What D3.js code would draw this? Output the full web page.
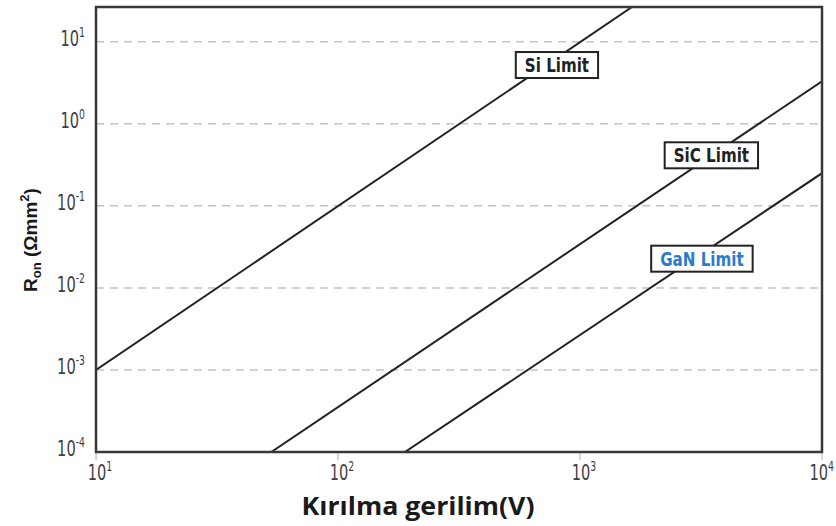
<!DOCTYPE html>
<html>
<head>
<meta charset="utf-8">
<script src="https://cdn.jsdelivr.net/npm/d3@7"></script>
<style>
    body { margin: 0; background: #fff; }
    .tick-label { font-family: "DejaVu Sans Condensed", "Liberation Sans Narrow", sans-serif; fill: #404040; }
    .limit-label { font-family: "DejaVu Sans Condensed", "Liberation Sans Narrow", sans-serif; font-weight: bold; }
</style>
</head>
<body>
<svg id="chart" width="836" height="526"></svg>
<script>
// breakdown voltage ticks and Ron ticks (exponents of 10)
const xTickExps = [1, 2, 3, 4]
const yTickExps = [-4, -3, -2, -1, 0, 1]

// limit lines, points [V, Ron]
const siLimit = [[10, 1e-3], [1640, 26.5]]
const sicLimit = [[53, 1e-4], [1e4, 3.3]]
const ganLimit = [[189, 1e-4], [1e4, 0.25]]

const limitNames = ["Si Limit", "SiC Limit", "GaN Limit"]
const labelAnchors = [[803, 5.2], [3490, 0.413], [3190, 0.0227]]
const labelColors = ["#222", "#222", "#2a7bd0"]

const margin = { left: 96, top: 7, right: 14, bottom: 74 }
const svg = d3.select("#chart")
const width = +svg.attr("width")
const height = +svg.attr("height")

const scX = d3.scaleLog().domain([10, 1e4]).range([margin.left, width - margin.right])
const scY = d3.scaleLog().domain([1e-4, 26.5]).range([height - margin.bottom, margin.top])

svg.append("clipPath").attr("id", "plot-clip")
    .append("rect")
    .attr("x", margin.left).attr("y", margin.top)
    .attr("width", width - margin.left - margin.right)
    .attr("height", height - margin.top - margin.bottom)

// dashed grid lines
svg.append("g").selectAll("line").data(yTickExps.slice(1))
    .enter().append("line")
    .attr("x1", scX.range()[0]).attr("x2", scX.range()[1])
    .attr("y1", d => scY(Math.pow(10, d))).attr("y2", d => scY(Math.pow(10, d)))
    .attr("stroke", "#c4c4c4").attr("stroke-width", 1.5)
    .attr("stroke-dasharray", "8,6")

// x ticks
svg.append("g").selectAll("line").data(xTickExps)
    .enter().append("line")
    .attr("x1", d => scX(Math.pow(10, d))).attr("x2", d => scX(Math.pow(10, d)))
    .attr("y1", scY.range()[0]).attr("y2", scY.range()[0] + 8)
    .attr("stroke", "#b0b0b0").attr("stroke-width", 1)

// tick labels as 10 with superscript exponent, squeezed to look narrow
function tickLabel(sel, exp) {
    sel.append("tspan").text("10")
    sel.append("tspan").attr("dy", -9).attr("font-size", 14).text(exp)
}
const squeeze = 0.74

svg.append("g").selectAll("text").data(yTickExps)
    .enter().append("text")
    .attr("class", "tick-label")
    .attr("transform", d => `translate(${margin.left - 11},${scY(Math.pow(10, d)) + 4}) scale(${squeeze},1)`)
    .attr("font-size", 22)
    .attr("text-anchor", "end")
    .each(function (d) { d3.select(this).call(tickLabel, d) })

svg.append("g").selectAll("text").data(xTickExps)
    .enter().append("text")
    .attr("class", "tick-label")
    .attr("font-size", 22)
    .attr("text-anchor", "middle")
    .each(function (d) {
        let sel = d3.select(this).call(tickLabel, d)
        let w = this.getBBox().width * squeeze
        let x = Math.min(scX(Math.pow(10, d)) + 4, width - 2 - w / 2)
        sel.attr("transform", `translate(${x},${scY.range()[0] + 28}) scale(${squeeze},1)`)
    })

// limit lines
let lnMkr = d3.line().x(d => scX(d[0])).y(d => scY(d[1]))
svg.append("g").attr("clip-path", "url(#plot-clip)")
    .selectAll("path").data([siLimit, sicLimit, ganLimit])
    .enter().append("path")
    .attr("d", lnMkr)
    .attr("fill", "none")
    .attr("stroke", "#222")
    .attr("stroke-width", 2)

// frame
svg.append("rect")
    .attr("x", margin.left).attr("y", margin.top)
    .attr("width", width - margin.left - margin.right)
    .attr("height", height - margin.top - margin.bottom)
    .attr("fill", "none")
    .attr("stroke", "#383838")
    .attr("stroke-width", 2.5)

// labels in boxes
const labelSqueeze = 0.84
limitNames.forEach((name, i) => {
    let cx = scX(labelAnchors[i][0])
    let cy = scY(labelAnchors[i][1])
    let g = svg.append("g").attr("transform", `translate(${cx},${cy})`)
    let box = g.append("rect")
    let txt = g.append("text")
        .attr("class", "limit-label")
        .attr("transform", `translate(0,7) scale(${labelSqueeze},1)`)
        .attr("text-anchor", "middle")
        .attr("font-size", 20)
        .attr("fill", labelColors[i])
        .text(name)
    let w = txt.node().getBBox().width * labelSqueeze
    box.attr("x", -w / 2 - 9).attr("y", -13)
        .attr("width", w + 18).attr("height", 26)
        .attr("fill", "#fff").attr("stroke", "#222").attr("stroke-width", 2)
})

// axis titles
svg.append("text")
    .attr("x", 418).attr("y", 515)
    .attr("text-anchor", "middle")
    .attr("font-family", "Open Sans, sans-serif")
    .attr("font-weight", "bold")
    .attr("font-size", 25)
    .attr("fill", "#1a1a1a")
    .attr("textLength", 233)
    .attr("lengthAdjust", "spacingAndGlyphs")
    .text("Kırılma gerilim(V)")

let yTitle = svg.append("text")
    .attr("transform", "translate(37,240) rotate(-90)")
    .attr("text-anchor", "middle")
    .attr("font-family", "Liberation Sans, Arial, sans-serif")
    .attr("font-weight", "bold")
    .attr("font-size", 19)
    .attr("fill", "#1a1a1a")
yTitle.append("tspan").text("R")
yTitle.append("tspan").attr("font-size", 13).attr("dy", 4).text("on")
yTitle.append("tspan").attr("dy", -4).text(" (Ωmm")
yTitle.append("tspan").attr("font-size", 13).attr("dy", -8).text("2")
yTitle.append("tspan").attr("dy", 8).text(")")
</script>
</body>
</html>
